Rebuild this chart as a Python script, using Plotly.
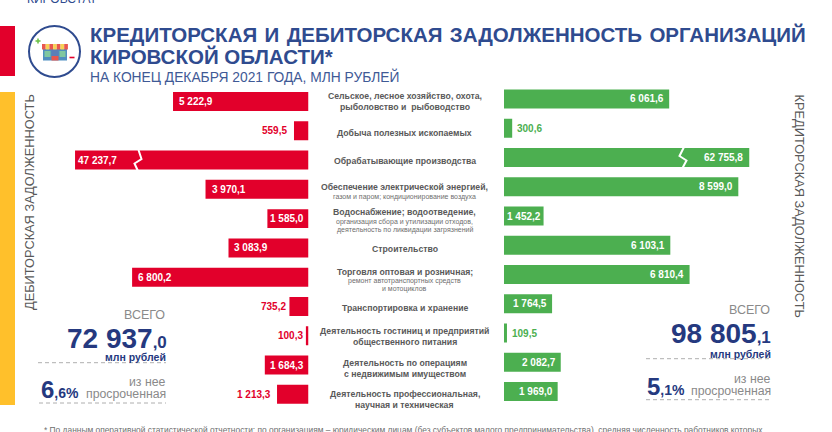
import plotly.graph_objects as go

W, H = 832, 432
FONT = "Liberation Sans"
RED, GREEN, BLUE, NAVY = "#E2002B", "#4CAF50", "#2F4B8F", "#25397F"
GRAY, LGRAY, YELLOW = "#595959", "#8A8A8A", "#FFC02B"

# ---------- data ----------
categories = ["Сельское хозяйство", "Добыча", "Обрабатывающие", "Энергия", "Водоснабжение", "Строительство",
              "Торговля", "Транспорт", "Гостиницы", "Недвижимость", "Профессиональная"]
debit = [5222.9, 559.5, 47237.7, 3970.1, 1585.0, 3083.9, 6800.2, 735.2, 100.3, 1684.3, 1213.3]
credit = [6061.6, 300.6, 62755.8, 8599.0, 1452.2, 6103.1, 6810.4, 1764.5, 109.5, 2082.7, 1969.0]
debit_labels = ["5 222,9", "559,5", "47 237,7", "3 970,1", "1 585,0", "3 083,9", "6 800,2", "735,2", "100,3", "1 684,3", "1 213,3"]
credit_labels = ["6 061,6", "300,6", "62 755,8", "8 599,0", "1 452,2", "6 103,1", "6 810,4", "1 764,5", "109,5", "2 082,7", "1 969,0"]
axis_break = 9000  # the two largest bars are cut with a zigzag at this length
row_lines = [
    [("Сельское, лесное хозяйство, охота,", "m"), ("рыболовство и  рыбоводство", "m")],
    [("Добыча полезных ископаемых", "m")],
    [("Обрабатывающие производства", "m")],
    [("Обеспечение электрической энергией,", "m"), ("газом и паром; кондиционирование воздуха", "s")],
    [("Водоснабжение; водоотведение,", "m"), ("организация сбора и утилизации отходов,", "s"), ("деятельность по ликвидации загрязнений", "s")],
    [("Строительство", "m")],
    [("Торговля оптовая и розничная;", "m"), ("ремонт автотранспортных средств", "s"), ("и мотоциклов", "s")],
    [("Транспортировка и хранение", "m")],
    [("Деятельность гостиниц и предприятий", "m"), ("общественного питания", "m")],
    [("Деятельность по операциям", "m"), ("с недвижимым имуществом", "m")],
    [("Деятельность профессиональная,", "m"), ("научная и техническая", "m")],
]
# ---------- layout helpers ----------
line_y = [[96, 106.7], [132.7], [160.7], [187.3, 196.7], [211.7, 221.7, 230], [249],
          [271.7, 281, 288.7], [307.7], [331.3, 342], [363, 373.7], [394, 404.7]]


def px(x):
    return x / W


def py(y):
    return 1 - y / H


anns, shapes = [], []


def txt(x, y, s, size, color, anchor="left", bold=False, angle=0):
    anns.append(dict(x=px(x), y=py(y), xref="paper", yref="paper", text=f"<b>{s}</b>" if bold else s, showarrow=False,
                     xanchor=anchor, yanchor="middle", align=anchor if anchor != "center" else "center", textangle=angle,
                     borderpad=0, borderwidth=0, font=dict(family=FONT, size=size, color=color)))


def rect(x0, y0, x1, y1, color):
    shapes.append(dict(type="rect", xref="paper", yref="paper", x0=px(x0), x1=px(x1), y0=py(y0), y1=py(y1),
                       fillcolor=color, line_width=0, layer="above"))


def poly(points, color, width, dash=None):
    d = "M " + " L ".join(f"{px(a)},{py(b)}" for a, b in points)
    shapes.append(dict(type="path", xref="paper", yref="paper", path=d, layer="above",
                       line=dict(color=color, width=width, dash=dash or "solid")))


fig = go.Figure()
fig.add_bar(y=categories, x=[min(v, axis_break) for v in debit], orientation="h", xaxis="x", yaxis="y",
            marker=dict(color=RED, line_width=0), width=0.648)
fig.add_bar(y=categories, x=[min(v, axis_break) for v in credit], orientation="h", xaxis="x2", yaxis="y2",
            marker=dict(color=GREEN, line_width=0), width=0.648)

L_SCALE, R_SCALE = 0.02594, 0.02725
hidden = dict(visible=False, showgrid=False, zeroline=False, fixedrange=True)
row_h = 29.28
fig.update_layout(
    width=W, height=H, margin=dict(l=0, r=0, t=0, b=0, pad=0), autosize=False, showlegend=False,
    paper_bgcolor="white", plot_bgcolor="white", barmode="overlay",
    xaxis=dict(hidden, domain=[0, px(308.5)], range=[308.5 / L_SCALE, 0], anchor="y"),
    xaxis2=dict(hidden, domain=[px(504), 1], range=[0, (W - 504) / R_SCALE], anchor="y2"),
    yaxis=dict(hidden, domain=[py(394.3 + row_h / 2), py(101.5 - row_h / 2)], autorange=False,
               range=[10.5, -0.5], type="category", categoryorder="array", categoryarray=categories, anchor="x"),
    yaxis2=dict(hidden, domain=[py(391.5 + row_h / 2), py(99 - row_h / 2)], autorange=False,
                range=[10.5, -0.5], type="category", categoryorder="array", categoryarray=categories, anchor="x2"),
)

# value labels, tied to the bars through the axes
L_SHIFT = [6, -7, 3, 6, 3, 5, 6, -3.5, -3, 5, -6]
R_SHIFT = [-5, 5, -6, -5, -3, -5, -5.5, -5, 5, -5, -5]
for i, (c, v, lab, sh) in enumerate(zip(categories, debit, debit_labels, L_SHIFT)):
    anns.append(dict(x=min(v, axis_break), y=c, xref="x", yref="y", text=f"<b>{lab}</b>", showarrow=False, xshift=sh, yshift=0,
                     xanchor="left" if sh > 0 else "right", yanchor="middle", borderpad=0, borderwidth=0,
                     font=dict(family=FONT, size=10, color="white" if sh > 0 else RED)))
for i, (c, v, lab, sh) in enumerate(zip(categories, credit, credit_labels, R_SHIFT)):
    anns.append(dict(x=min(v, axis_break), y=c, xref="x2", yref="y2", text=f"<b>{lab}</b>", showarrow=False, xshift=sh, yshift=0,
                     xanchor="right" if sh < 0 else "left", yanchor="middle", borderpad=0, borderwidth=0,
                     font=dict(family=FONT, size=10, color="white" if sh < 0 else GREEN)))

# centre row captions
for lines, ys in zip(row_lines, line_y):
    for (s, kind), y in zip(lines, ys):
        if kind == "m":
            txt(404.5, y, s, 8.7, GRAY, "center", bold=True)
        else:
            txt(404.5, y, s, 7, "#6E6E6E", "center")

# side bands
rect(0, 26, 15, 76, RED)
rect(0, 92, 15, 405, YELLOW)

# header
gap = " \u200a"
txt(27, -1, "КИРОВСТАТ", 12, BLUE)
txt(90, 35, "<b>" + gap.join(["КРЕДИТОРСКАЯ", "И", "ДЕБИТОРСКАЯ", "ЗАДОЛЖЕННОСТЬ", "ОРГАНИЗАЦИЙ"]) + "</b>", 20.5, BLUE)
txt(90, 57, "<b>КИРОВСКОЙ ОБЛАСТИ*</b>", 20.5, BLUE)
txt(90, 76, "НА КОНЕЦ ДЕКАБРЯ 2021 ГОДА, МЛН РУБЛЕЙ", 13.8, "#3F5A96")

# logo
shapes.append(dict(type="circle", xref="paper", yref="paper", x0=px(29), x1=px(80), y0=py(77), y1=py(26),
                   line=dict(color=BLUE, width=2), layer="above"))
rect(43, 49, 67, 60.5, "#4F8FC0")
rect(44.5, 51, 50.5, 57, "#7FC8A0")
rect(59.5, 51, 65.5, 57, "#7FC8A0")
rect(51.5, 49.5, 58.5, 56, "#5C7FB8")
rect(51.5, 56, 58.5, 60.5, "#E8574F")
for k in range(7):
    rect(42 + k * 3.7, 44, 42 + (k + 1) * 3.7, 49.5, "#E8574F" if k % 2 == 0 else "#F6D155")
poly([(35.5, 41), (40.5, 41)], "#6CC24A", 1.6)
poly([(38, 38.5), (38, 43.5)], "#6CC24A", 1.6)
poly([(69.5, 57.5), (74.5, 57.5)], RED, 1.6)

# vertical captions
txt(29, 202, "ДЕБИТОРСКАЯ ЗАДОЛЖЕННОСТЬ", 12.8, GRAY, "center", angle=-90)
txt(799, 205.5, "КРЕДИТОРСКАЯ ЗАДОЛЖЕННОСТЬ", 12.8, GRAY, "center", angle=90)

# axis-break marks
poly([(138.5, 150), (141.5, 159), (134.5, 163.5), (138, 171)], "white", 2)
poly([(684, 147), (679.5, 156), (686.5, 160.5), (682.5, 168)], "white", 2)

# totals: left
txt(165, 315, "ВСЕГО", 12.5, LGRAY, "right")
txt(167, 338, '<b>72 937<span style="font-size:17px">,0</span></b>', 28, NAVY, "right")
txt(166, 356.7, "<b>млн рублей</b>", 10.5, NAVY, "right")
poly([(38, 362.7), (166, 362.7)], "#9A9A9A", 0.8, "4px,3px")
txt(166, 382, "из нее", 12.3, LGRAY, "right")
txt(41, 389, '<b>6<span style="font-size:14px">,6%</span></b>', 24, NAVY)
txt(166, 394, "просроченная", 12.3, LGRAY, "right")
poly([(39, 403), (166, 403)], "#9A9A9A", 0.8, "4px,3px")

# totals: right
txt(769.5, 310, "ВСЕГО", 12.5, LGRAY, "right")
txt(771, 333.5, '<b>98 805<span style="font-size:17px">,1</span></b>', 28, NAVY, "right")
txt(771, 353.7, "<b>млн рублей</b>", 10.5, NAVY, "right")
poly([(646, 358.7), (771, 358.7)], "#9A9A9A", 0.8, "4px,3px")
txt(771, 378.7, "из нее", 12.3, LGRAY, "right")
txt(647, 386, '<b>5<span style="font-size:14px">,1%</span></b>', 24, NAVY)
txt(771, 390.7, "просроченная", 12.3, LGRAY, "right")
poly([(646, 399.7), (771, 399.7)], "#9A9A9A", 0.8, "4px,3px")

# footnote
txt(44, 429.5, "* По данным оперативной статистической отчетности; по организациям – юридическим лицам (без субъектов малого "
    "предпринимательства), средняя численность работников которых", 8.4, "#6E6E6E")

fig.update_layout(annotations=anns, shapes=shapes)
fig.write_html("out.html", config=dict(displayModeBar=False),
               post_script="document.body.style.margin='0';document.body.style.overflow='hidden';")
